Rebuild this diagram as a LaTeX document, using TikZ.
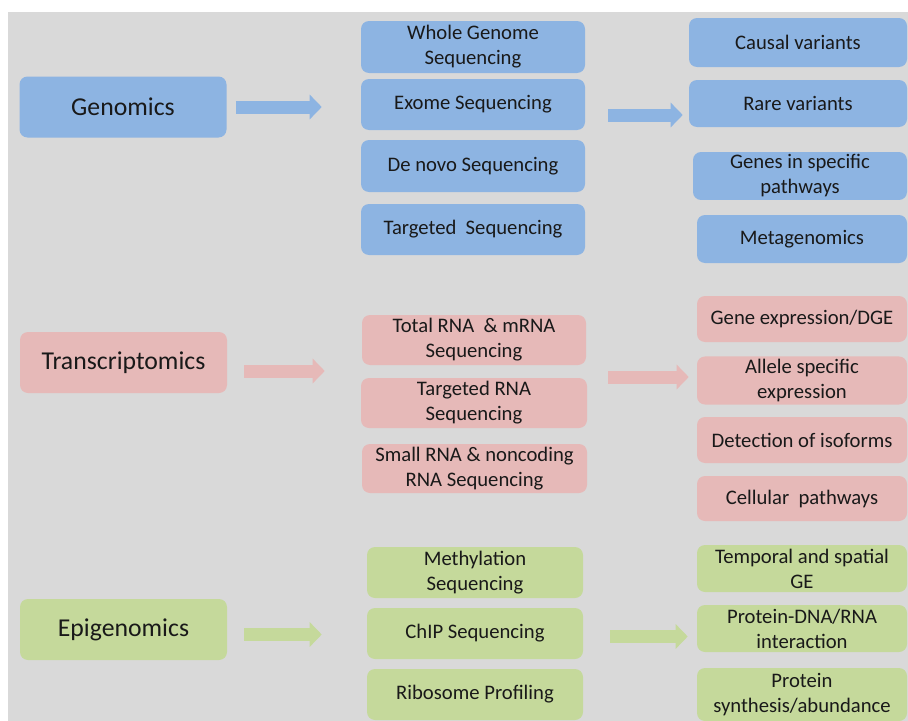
\documentclass[tikz,border=0pt]{standalone}
\usepackage{fontspec}
\setmainfont{Carlito}
\usepackage{tikz}
\usepackage{xcolor}
\usetikzlibrary{shapes,arrows.meta,positioning,calc}
\definecolor{genblue}{RGB}{141,180,226}
\definecolor{transpink}{RGB}{230,185,184}
\definecolor{epigreen}{RGB}{197,217,155}
\definecolor{slidegray}{RGB}{217,217,217}
\definecolor{textdark}{RGB}{25,25,25}

\begin{document}
\begin{tikzpicture}[
    x=0.75pt,y=-0.75pt,
    every node/.style={rounded corners=6pt,align=center,text=textdark,inner sep=2pt},
    omicsbox/.style={minimum width=155.25pt,minimum height=45.75pt,font=\fontsize{19.3}{23}\selectfont},
    techbox/.style={minimum width=168pt,minimum height=38.25pt,font=\fontsize{15.5}{18.75}\selectfont},
    outbox/.style={minimum width=157.5pt,minimum height=35.25pt,font=\fontsize{15.5}{18.75}\selectfont},
    flowarrow/.style={line width=9.75pt,-{Triangle[length=9pt,width=18pt]}}
]
\clip (0,0) rectangle (908,721);
\fill[white] (0,0) rectangle (908,721);
\fill[slidegray] (8,12) rectangle (908,721);

% Genomics
\node[omicsbox,fill=genblue] (genomics) at (123,107) {Genomics};
\node[techbox,fill=genblue,minimum height=39pt] (wgs) at (473,47) {Whole Genome\\Sequencing};
\node[techbox,fill=genblue] (exome) at (473,104.5) {Exome Sequencing};
\node[techbox,fill=genblue,minimum height=39pt] (denovo) at (473,166) {De novo Sequencing};
\node[techbox,fill=genblue] (targeted) at (473,229.5) {Targeted\ \ Sequencing};
\node[outbox,fill=genblue,minimum width=163.5pt,minimum height=36.75pt] (causal) at (798,42.5) {Causal variants};
\node[outbox,fill=genblue,minimum width=163.5pt] (rare) at (798,103.5) {Rare variants};
\node[outbox,fill=genblue,minimum width=160.5pt,minimum height=34.5pt] (genes) at (800,176) {Genes in specific\\pathways};
\node[outbox,fill=genblue,minimum height=36pt] (meta) at (802,239) {Metagenomics};

% Transcriptomics
\node[omicsbox,fill=transpink] (transcriptomics) at (123.5,362.5) {Transcriptomics};
\node[techbox,fill=transpink,minimum height=37.5pt] (totalrna) at (474,340) {Total RNA\ \ \& mRNA\\Sequencing};
\node[techbox,fill=transpink,minimum width=169.5pt,minimum height=37.5pt] (targetedrna) at (474,403) {Targeted RNA\\Sequencing};
\node[techbox,fill=transpink,minimum width=168.75pt,minimum height=36.75pt] (smallrna) at (474.5,468.5) {Small RNA \& noncoding\\RNA Sequencing};
\node[outbox,fill=transpink,minimum height=34.5pt] (geneexpr) at (802,319) {Gene expression/DGE};
\node[outbox,fill=transpink] (allele) at (802,380.5) {Allele specific\\expression};
\node[outbox,fill=transpink,minimum height=34.5pt] (isoforms) at (802,440) {Detection of isoforms};
\node[outbox,fill=transpink,minimum height=33.75pt] (cellular) at (802,498.5) {Cellular\ \ pathways};

% Epigenomics
\node[omicsbox,fill=epigreen] (epigenomics) at (123.5,629.5) {Epigenomics};
\node[techbox,fill=epigreen,minimum width=162pt] (methyl) at (475,572.5) {Methylation\\Sequencing};
\node[techbox,fill=epigreen,minimum width=162pt] (chip) at (475,633.5) {ChIP Sequencing};
\node[techbox,fill=epigreen,minimum width=162pt] (ribo) at (475,694.5) {Ribosome Profiling};
\node[outbox,fill=epigreen] (temporal) at (802,568.5) {Temporal and spatial\\GE};
\node[outbox,fill=epigreen] (protdna) at (802,628.5) {Protein-DNA/RNA\\interaction};
\node[outbox,fill=epigreen,minimum height=39.75pt] (protsyn) at (802,694.5) {Protein\\synthesis/abundance};

% Arrow levels
\coordinate (glevel) at (0,115);
\coordinate (tlevelA) at (0,371);
\coordinate (tlevelB) at (0,377);
\coordinate (elevelA) at (0,634.5);
\coordinate (elevelB) at (0,636.5);

% Arrows
\draw[flowarrow,genblue,shorten <=6.75pt,shorten >=29.25pt] (genomics.east) -- (genomics.east -| exome.west);
\draw[flowarrow,genblue,shorten <=17.25pt,shorten >=4.5pt] (exome.east |- glevel) -- (rare.west |- glevel);
\draw[flowarrow,transpink,shorten <=12.75pt,shorten >=27.75pt] (transcriptomics.east |- tlevelA) -- (totalrna.west |- tlevelA);
\draw[flowarrow,transpink,shorten <=15.75pt,shorten >=6pt] (targetedrna.east |- tlevelB) -- (allele.west |- tlevelB);
\draw[flowarrow,epigreen,shorten <=12.75pt,shorten >=33.75pt] (epigenomics.east |- elevelA) -- (chip.west |- elevelA);
\draw[flowarrow,epigreen,shorten <=20.25pt,shorten >=6.75pt] (chip.east |- elevelB) -- (protdna.west |- elevelB);

\end{tikzpicture}
\end{document}
